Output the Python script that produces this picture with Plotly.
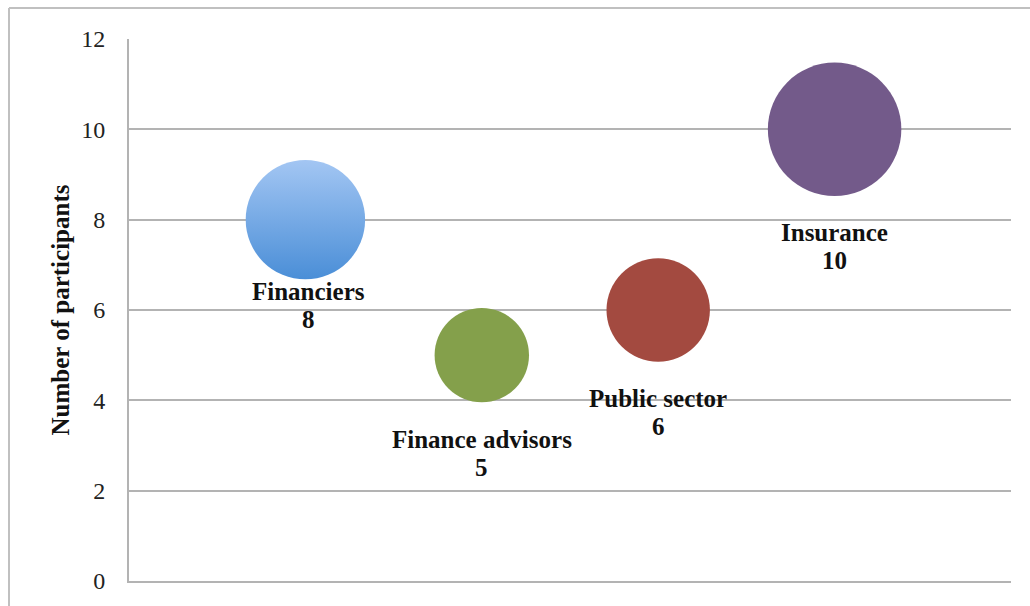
import plotly.graph_objects as go

categories = ["Financiers", "Finance advisors", "Public sector", "Insurance"]
x_positions = [1, 2, 3, 4]
participants = [8, 5, 6, 10]
bubble_sizes = [8, 5, 6, 10]
y_ticks = [0, 2, 4, 6, 8, 10, 12]

colors = ["#a3c6f3", "#84a04b", "#a34a40", "#735a8a"]
grad_colors = ["#4a8ed7", "#84a04b", "#a34a40", "#735a8a"]
# extra offset (px) of each label below its bubble's edge
label_gap = [-3, 22, 21, 21]
LINE_STEP = 28

MAX_D = 133.5
sizeref = 2.0 * max(bubble_sizes) / (MAX_D ** 2)

fig = go.Figure()
for i, cat in enumerate(categories):
    fig.add_trace(go.Scatter(
        x=[x_positions[i]], y=[participants[i]],
        mode="markers",
        name=cat,
        marker=dict(
            size=[bubble_sizes[i]], sizemode="area", sizeref=sizeref,
            color=colors[i],
            gradient=dict(type="vertical", color=grad_colors[i]),
            line=dict(width=0),
            opacity=1,
        ),
        showlegend=False,
        hoverinfo="skip",
    ))

label_font = dict(family="Liberation Serif", size=25, color="#111111")
for i, cat in enumerate(categories):
    radius = (bubble_sizes[i] / 2.0 / sizeref) ** 0.5
    for j, txt in enumerate([cat, str(participants[i])]):
        fig.add_annotation(
            x=x_positions[i], y=participants[i],
            xref="x", yref="y",
            text=f"<b>{txt}</b>",
            showarrow=False,
            yanchor="top", xanchor="center",
            xshift=3 if i == 0 else 0,
            yshift=-(radius + label_gap[i] + j * LINE_STEP),
            font=label_font,
            align="center",
        )

# outer chart frame (left and top edges visible)
fig.add_shape(type="line", xref="paper", yref="paper",
              x0=(9 - 129) / 882, x1=(9 - 129) / 882,
              y0=(583 - 620) / 544, y1=(583 - 8) / 544,
              line=dict(color="#c0c0c0", width=2))
fig.add_shape(type="line", xref="paper", yref="paper",
              x0=(9 - 129) / 882, x1=(1040 - 129) / 882,
              y0=(583 - 8) / 544, y1=(583 - 8) / 544,
              line=dict(color="#c0c0c0", width=2))

fig.update_layout(
    width=1030, height=606,
    margin=dict(l=129, r=19, t=39, b=23),
    paper_bgcolor="white", plot_bgcolor="white",
    font=dict(family="Liberation Serif", color="#222222"),
    xaxis=dict(range=[0, 5], showgrid=False, showticklabels=False,
               zeroline=False, showline=True, linecolor="#b3b3b3",
               linewidth=2, ticks=""),
    yaxis=dict(range=[0, 12], tickvals=y_ticks, ticktext=[str(t) for t in y_ticks],
               showgrid=True, gridcolor="#b3b3b3", gridwidth=2,
               zeroline=False, showline=True, linecolor="#b3b3b3", linewidth=2,
               ticks="", ticklabelstandoff=17,
               tickfont=dict(family="Liberation Serif", size=24, color="#222222"),
               title=dict(text="<b>Number of participants</b>",
                          font=dict(family="Liberation Serif", size=25, color="#111111"),
                          standoff=4)),
)

fig.write_html("out.html")
